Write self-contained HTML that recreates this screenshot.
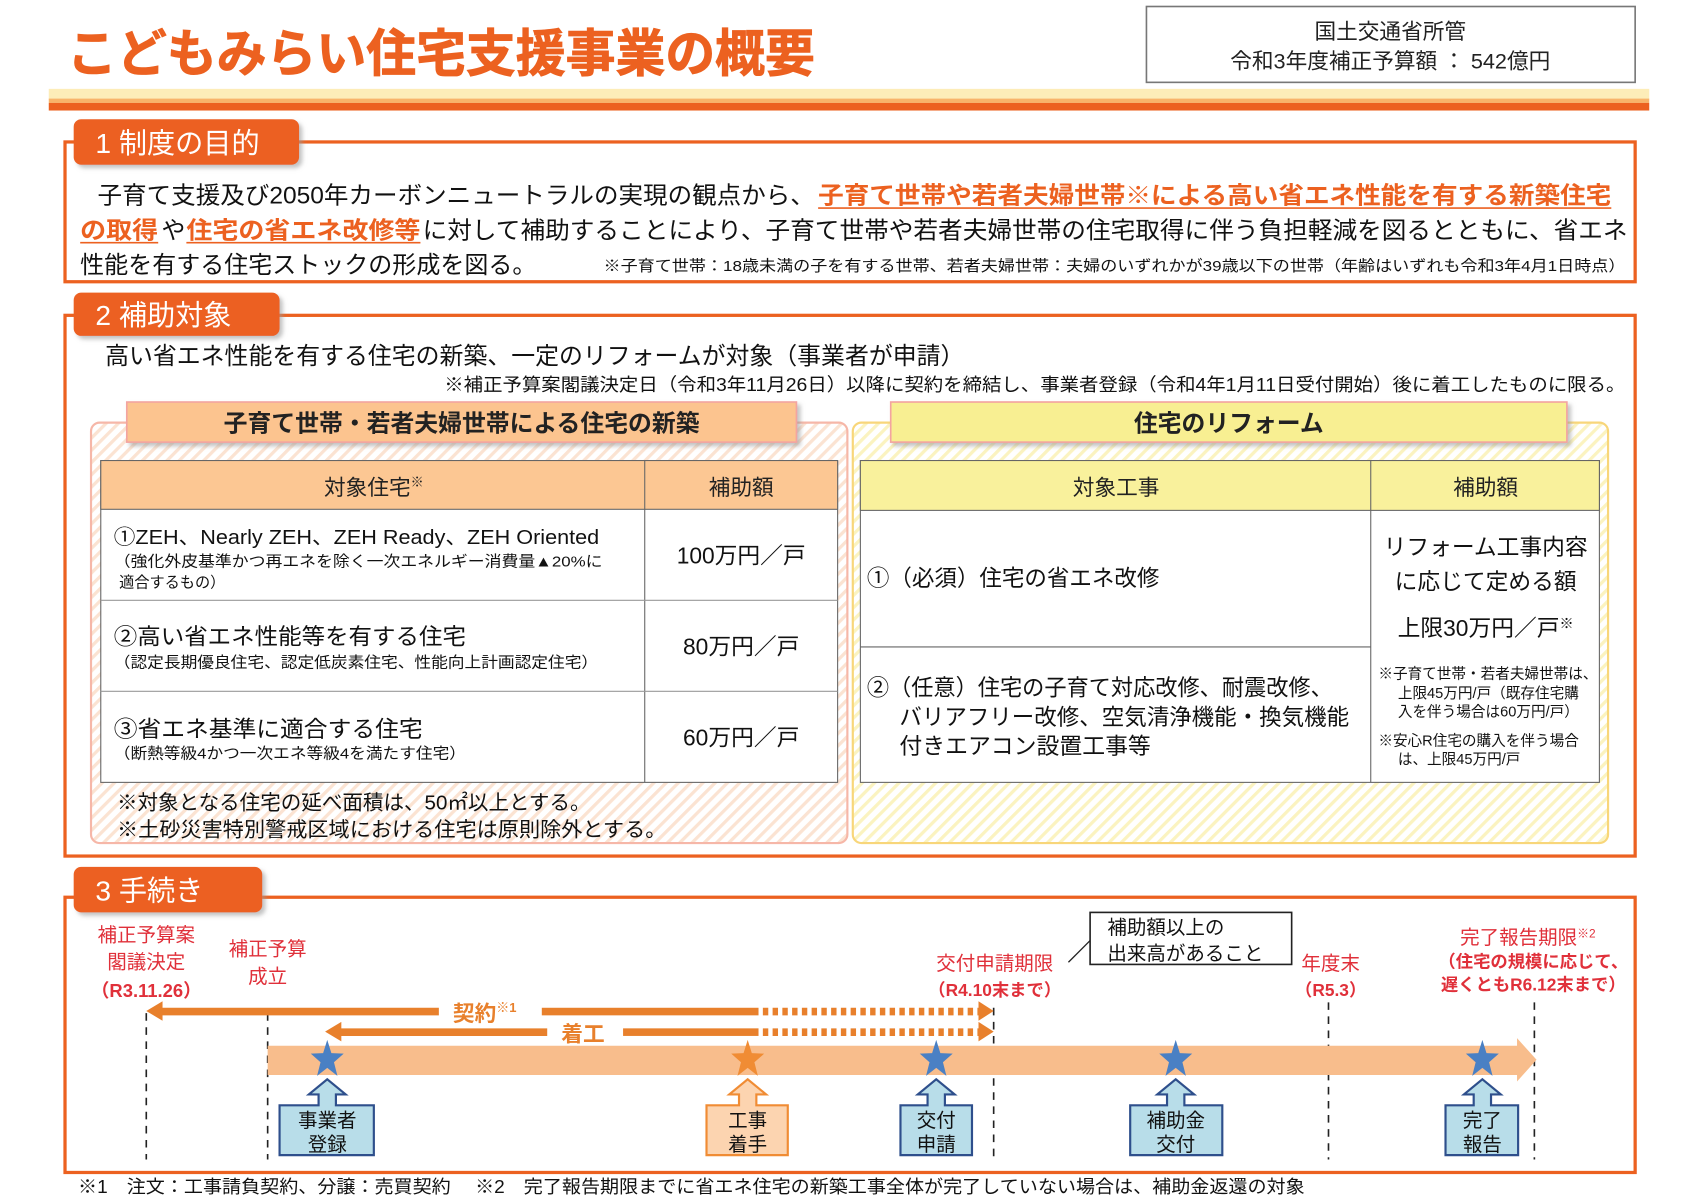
<!DOCTYPE html>
<html><head><meta charset="utf-8"><style>
html,body{margin:0;padding:0;background:#fff;}
svg{display:block;}
text{font-family:"Liberation Sans","Noto Sans CJK JP",sans-serif;}
</style></head><body>
<svg width="1698" height="1200" viewBox="0 0 1567 1107.4" preserveAspectRatio="none" xmlns="http://www.w3.org/2000/svg">
<defs>
<pattern id="hatchO" width="8" height="8" patternUnits="userSpaceOnUse" patternTransform="rotate(45)">
<rect width="8" height="8" fill="#fff"/><rect width="3" height="8" fill="#fbe3d2"/></pattern>
<pattern id="hatchY" width="8" height="8" patternUnits="userSpaceOnUse" patternTransform="rotate(45)">
<rect width="8" height="8" fill="#fff"/><rect width="3" height="8" fill="#fbf3c0"/></pattern>
<path id="star" d="M0,-16 L3.8,-5.3 L15.2,-4.9 L6.2,2 L9.4,12.9 L0,6.5 L-9.4,12.9 L-6.2,2 L-15.2,-4.9 L-3.8,-5.3Z" transform="scale(1,1.15)"/>
<filter id="sh" x="-5%" y="-20%" width="110%" height="150%"><feDropShadow dx="3" dy="3" stdDeviation="2" flood-color="#999" flood-opacity="0.6"/></filter>
</defs>

<!-- Title -->
<text x="62" y="66" font-size="47" font-weight="bold" fill="#ec6120" stroke="#ec6120" stroke-width="0.8" textLength="690" lengthAdjust="spacingAndGlyphs">こどもみらい住宅支援事業の概要</text>
<rect x="1058" y="6" width="451" height="70" fill="#fff" stroke="#777" stroke-width="1.5"/>
<text x="1283" y="36" font-size="20" text-anchor="middle" fill="#222">国土交通省所管</text>
<text x="1283" y="63" font-size="20" text-anchor="middle" fill="#222">令和3年度補正予算額 ： 542億円</text>
<rect x="45" y="82" width="1477" height="10" fill="#fdedb8"/>
<rect x="45" y="91" width="1477" height="4" fill="#f8b46a"/>
<rect x="45" y="95" width="1477" height="7" fill="#ec6120"/>

<!-- Section 1 -->
<rect x="60" y="131" width="1449" height="129" fill="none" stroke="#ec6120" stroke-width="3"/>
<rect x="68" y="110" width="208" height="42" rx="7" fill="#ec6120" filter="url(#sh)"/>
<text x="88" y="141" font-size="26" fill="#fff">1 制度の目的</text>
<text x="90" y="188" font-size="22" fill="#111" textLength="662" lengthAdjust="spacingAndGlyphs">子育て支援及び2050年カーボンニュートラルの実現の観点から、</text>
<text x="755" y="188" font-size="22" fill="#ec6120" font-weight="bold" textLength="732" lengthAdjust="spacingAndGlyphs">子育て世帯や若者夫婦世帯※による高い省エネ性能を有する新築住宅</text>
<line x1="755" y1="192" x2="1487" y2="192" stroke="#ec6120" stroke-width="1.5"/>
<text x="74" y="220" font-size="22" fill="#ec6120" font-weight="bold" textLength="72" lengthAdjust="spacingAndGlyphs">の取得</text>
<line x1="74" y1="224" x2="146" y2="224" stroke="#ec6120" stroke-width="1.5"/>
<text x="149" y="220" font-size="22" fill="#111">や</text>
<text x="172" y="220" font-size="22" fill="#ec6120" font-weight="bold" textLength="216" lengthAdjust="spacingAndGlyphs">住宅の省エネ改修等</text>
<line x1="172" y1="224" x2="388" y2="224" stroke="#ec6120" stroke-width="1.5"/>
<text x="390" y="220" font-size="22" fill="#111" textLength="1112" lengthAdjust="spacingAndGlyphs">に対して補助することにより、子育て世帯や若者夫婦世帯の住宅取得に伴う負担軽減を図るとともに、省エネ</text>
<text x="74" y="252" font-size="22" fill="#111" textLength="421" lengthAdjust="spacingAndGlyphs">性能を有する住宅ストックの形成を図る。</text>
<text x="557" y="250" font-size="14" fill="#111" textLength="943" lengthAdjust="spacingAndGlyphs">※子育て世帯：18歳未満の子を有する世帯、若者夫婦世帯：夫婦のいずれかが39歳以下の世帯（年齢はいずれも令和3年4月1日時点）</text>

<!-- Section 2 -->
<rect x="60" y="291" width="1449" height="499" fill="none" stroke="#ec6120" stroke-width="3"/>
<rect x="68" y="270" width="190" height="40" rx="7" fill="#ec6120" filter="url(#sh)"/>
<text x="88" y="300" font-size="26" fill="#fff">2 補助対象</text>
<text x="97" y="336" font-size="22" fill="#111" textLength="793" lengthAdjust="spacingAndGlyphs">高い省エネ性能を有する住宅の新築、一定のリフォームが対象（事業者が申請）</text>
<text x="410" y="361" font-size="17" fill="#111" textLength="1090" lengthAdjust="spacingAndGlyphs">※補正予算案閣議決定日（令和3年11月26日）以降に契約を締結し、事業者登録（令和4年1月11日受付開始）後に着工したものに限る。</text>

<!-- left panel -->
<rect x="84" y="390" width="698" height="388" rx="8" fill="url(#hatchO)" stroke="#f6b7a8" stroke-width="2"/>
<rect x="117" y="371" width="618" height="37" fill="#fcc48f" stroke="#f3a4a0" stroke-width="1.5" filter="url(#sh)"/>
<text x="426" y="398" font-size="22" font-weight="bold" text-anchor="middle" fill="#222">子育て世帯・若者夫婦世帯による住宅の新築</text>
<rect x="93" y="425" width="680" height="297" fill="#fff" stroke="#666" stroke-width="1"/>
<rect x="93" y="425" width="680" height="45" fill="#fcc793" stroke="#666" stroke-width="1"/>
<line x1="595" y1="425" x2="595" y2="722" stroke="#666"/>
<line x1="93" y1="554" x2="773" y2="554" stroke="#999"/>
<line x1="93" y1="638" x2="773" y2="638" stroke="#999"/>
<text x="345" y="457" font-size="20" text-anchor="middle" fill="#222">対象住宅<tspan font-size="12" dy="-8">※</tspan></text>
<text x="684" y="457" font-size="20" text-anchor="middle" fill="#222">補助額</text>
<text x="105" y="502" font-size="19" fill="#111" textLength="448" lengthAdjust="spacingAndGlyphs">①ZEH、Nearly ZEH、ZEH Ready、ZEH Oriented</text>
<text x="105" y="523" font-size="14" fill="#111" textLength="451" lengthAdjust="spacingAndGlyphs">（強化外皮基準かつ再エネを除く一次エネルギー消費量▲20%に</text>
<text x="110" y="542" font-size="14" fill="#111">適合するもの）</text>
<text x="684" y="520" font-size="21" text-anchor="middle" fill="#111">100万円／戸</text>
<text x="105" y="595" font-size="21" fill="#111" textLength="325" lengthAdjust="spacingAndGlyphs">②高い省エネ性能等を有する住宅</text>
<text x="105" y="616" font-size="14" fill="#111" textLength="447" lengthAdjust="spacingAndGlyphs">（認定長期優良住宅、認定低炭素住宅、性能向上計画認定住宅）</text>
<text x="684" y="604" font-size="21" text-anchor="middle" fill="#111">80万円／戸</text>
<text x="105" y="680" font-size="21" fill="#111" textLength="285" lengthAdjust="spacingAndGlyphs">③省エネ基準に適合する住宅</text>
<text x="105" y="700" font-size="14" fill="#111" textLength="325" lengthAdjust="spacingAndGlyphs">（断熱等級4かつ一次エネ等級4を満たす住宅）</text>
<text x="684" y="688" font-size="21" text-anchor="middle" fill="#111">60万円／戸</text>
<text x="108" y="747" font-size="19" fill="#111" textLength="437" lengthAdjust="spacingAndGlyphs">※対象となる住宅の延べ面積は、50㎡以上とする。</text>
<text x="108" y="772" font-size="19" fill="#111" textLength="507" lengthAdjust="spacingAndGlyphs">※土砂災害特別警戒区域における住宅は原則除外とする。</text>

<!-- right panel -->
<rect x="787" y="390" width="697" height="388" rx="8" fill="url(#hatchY)" stroke="#f8d67a" stroke-width="2"/>
<rect x="822" y="371" width="624" height="37" fill="#f8ef92" stroke="#f3a4a0" stroke-width="1.5" filter="url(#sh)"/>
<text x="1134" y="398" font-size="22" font-weight="bold" text-anchor="middle" fill="#222">住宅のリフォーム</text>
<rect x="794" y="425" width="682" height="297" fill="#fff" stroke="#666"/>
<rect x="794" y="425" width="682" height="46" fill="#f9f19c" stroke="#666"/>
<line x1="1265" y1="425" x2="1265" y2="722" stroke="#666"/>
<line x1="794" y1="597" x2="1265" y2="597" stroke="#666"/>
<text x="1030" y="457" font-size="20" text-anchor="middle" fill="#222">対象工事</text>
<text x="1371" y="457" font-size="20" text-anchor="middle" fill="#222">補助額</text>
<text x="800" y="541" font-size="21" fill="#111" textLength="270" lengthAdjust="spacingAndGlyphs">①（必須）住宅の省エネ改修</text>
<text x="800" y="642" font-size="21" fill="#111" textLength="430" lengthAdjust="spacingAndGlyphs">②（任意）住宅の子育て対応改修、耐震改修、</text>
<text x="830" y="669" font-size="21" fill="#111" textLength="415" lengthAdjust="spacingAndGlyphs">バリアフリー改修、空気清浄機能・換気機能</text>
<text x="830" y="696" font-size="21" fill="#111" textLength="232" lengthAdjust="spacingAndGlyphs">付きエアコン設置工事等</text>
<text x="1371" y="512" font-size="21" text-anchor="middle" fill="#111">リフォーム工事内容</text>
<text x="1371" y="544" font-size="21" text-anchor="middle" fill="#111">に応じて定める額</text>
<text x="1371" y="587" font-size="21" text-anchor="middle" fill="#111">上限30万円／戸<tspan font-size="13" dy="-7">※</tspan></text>
<text x="1272" y="626" font-size="13.5" fill="#111">※子育て世帯・若者夫婦世帯は、</text>
<text x="1290" y="644" font-size="13.5" fill="#111">上限45万円/戸（既存住宅購</text>
<text x="1290" y="661" font-size="13.5" fill="#111">入を伴う場合は60万円/戸）</text>
<text x="1272" y="688" font-size="13.5" fill="#111">※安心R住宅の購入を伴う場合</text>
<text x="1290" y="705" font-size="13.5" fill="#111">は、上限45万円/戸</text>

<!-- Section 3 -->
<rect x="60" y="828" width="1449" height="254" fill="none" stroke="#ec6120" stroke-width="3"/>
<rect x="68" y="800" width="174" height="42" rx="7" fill="#ec6120" filter="url(#sh)"/>
<text x="88" y="831" font-size="26" fill="#fff">3 手続き</text>

<g stroke="#222" stroke-width="1.5" stroke-dasharray="7,6">
<line x1="135" y1="935" x2="135" y2="1070"/>
<line x1="247" y1="935" x2="247" y2="1070"/>
<line x1="917" y1="930" x2="917" y2="1070"/>
<line x1="1226" y1="925" x2="1226" y2="1070"/>
<line x1="1416" y1="925" x2="1416" y2="1070"/>
</g>
<g font-size="18" fill="#e0303a" text-anchor="middle">
<text x="135" y="869">補正予算案</text><text x="135" y="894">閣議決定</text><text x="135" y="920" font-weight="bold" font-size="17">（R3.11.26）</text>
<text x="247" y="882">補正予算</text><text x="247" y="907">成立</text>
<text x="918" y="895">交付申請期限</text><text x="918" y="919" font-weight="bold" font-size="16">（R4.10末まで）</text>
<text x="1228" y="895">年度末</text><text x="1228" y="919" font-weight="bold" font-size="16">（R5.3）</text>
<text x="1410" y="871">完了報告期限<tspan font-size="11" dy="-6">※2</tspan></text>
<text x="1415" y="893" font-weight="bold" font-size="16">（住宅の規模に応じて、</text>
<text x="1415" y="914" font-weight="bold" font-size="16">遅くともR6.12末まで）</text>
</g>
<rect x="1006" y="842" width="186" height="48" fill="#fff" stroke="#222" stroke-width="1.5"/>
<text x="1022" y="862" font-size="18" fill="#111">補助額以上の</text>
<text x="1022" y="886" font-size="18" fill="#111">出来高があること</text>
<line x1="986" y1="888" x2="1006" y2="868" stroke="#222" stroke-width="1.2"/>

<!-- big band -->
<path d="M247,965 H1400 V958 L1418,978 L1400,998 V992 H247Z" fill="#f8bd8c"/>
<g fill="#e8802c">
<path d="M135,933 L150,924 V930 H405 V937 H150 V942Z"/>
<rect x="500" y="930" width="200" height="7"/>
<path d="M903,924 L917,933 L903,942Z"/>
<path d="M300,952 L315,943 V949 H505 V956 H315 V961Z"/>
<rect x="575" y="949" width="125" height="7"/>
<path d="M903,943 L917,952 L903,961Z"/>
</g>
<g stroke="#e8802c" stroke-width="7" stroke-dasharray="5,4">
<line x1="704" y1="933.5" x2="903" y2="933.5"/>
<line x1="704" y1="952.5" x2="903" y2="952.5"/>
</g>
<text x="418" y="942" font-size="20" font-weight="bold" fill="#e8802c">契約<tspan font-size="12" dy="-8">※1</tspan></text>
<text x="518" y="961" font-size="20" font-weight="bold" fill="#e8802c">着工</text>

<g fill="#4a80c4">
<use href="#star" x="302" y="978"/>
<use href="#star" x="864" y="978"/>
<use href="#star" x="1085" y="978"/>
<use href="#star" x="1368" y="978"/>
</g>
<use href="#star" x="690" y="978" fill="#f08c34"/>

<g stroke="#2e4f8c" stroke-width="2" fill="#b8dde9">
<path d="M258,1020 H294 V1010 H285 L302,996 L319,1010 H310 V1020 H345 V1066 H258Z"/>
<path d="M831,1020 H856 V1010 H847 L864,996 L881,1010 H872 V1020 H897 V1066 H831Z"/>
<path d="M1043,1020 H1077 V1010 H1068 L1085,996 L1102,1010 H1093 V1020 H1128 V1066 H1043Z"/>
<path d="M1334,1020 H1360 V1010 H1351 L1368,996 L1385,1010 H1376 V1020 H1401 V1066 H1334Z"/>
</g>
<path d="M652,1020 H682 V1010 H673 L690,996 L707,1010 H698 V1020 H727 V1066 H652Z" stroke="#f08c34" stroke-width="2" fill="#fcd4b0"/>
<g font-size="18" fill="#111" text-anchor="middle">
<text x="302" y="1040">事業者</text><text x="302" y="1062">登録</text>
<text x="690" y="1040">工事</text><text x="690" y="1062">着手</text>
<text x="864" y="1040">交付</text><text x="864" y="1062">申請</text>
<text x="1085" y="1040">補助金</text><text x="1085" y="1062">交付</text>
<text x="1368" y="1040">完了</text><text x="1368" y="1062">報告</text>
</g>
<text x="72" y="1101" font-size="17" fill="#111" textLength="1132" lengthAdjust="spacingAndGlyphs">※1　注文：工事請負契約、分譲：売買契約　 ※2　完了報告期限までに省エネ住宅の新築工事全体が完了していない場合は、補助金返還の対象</text>
</svg>
</body></html>
